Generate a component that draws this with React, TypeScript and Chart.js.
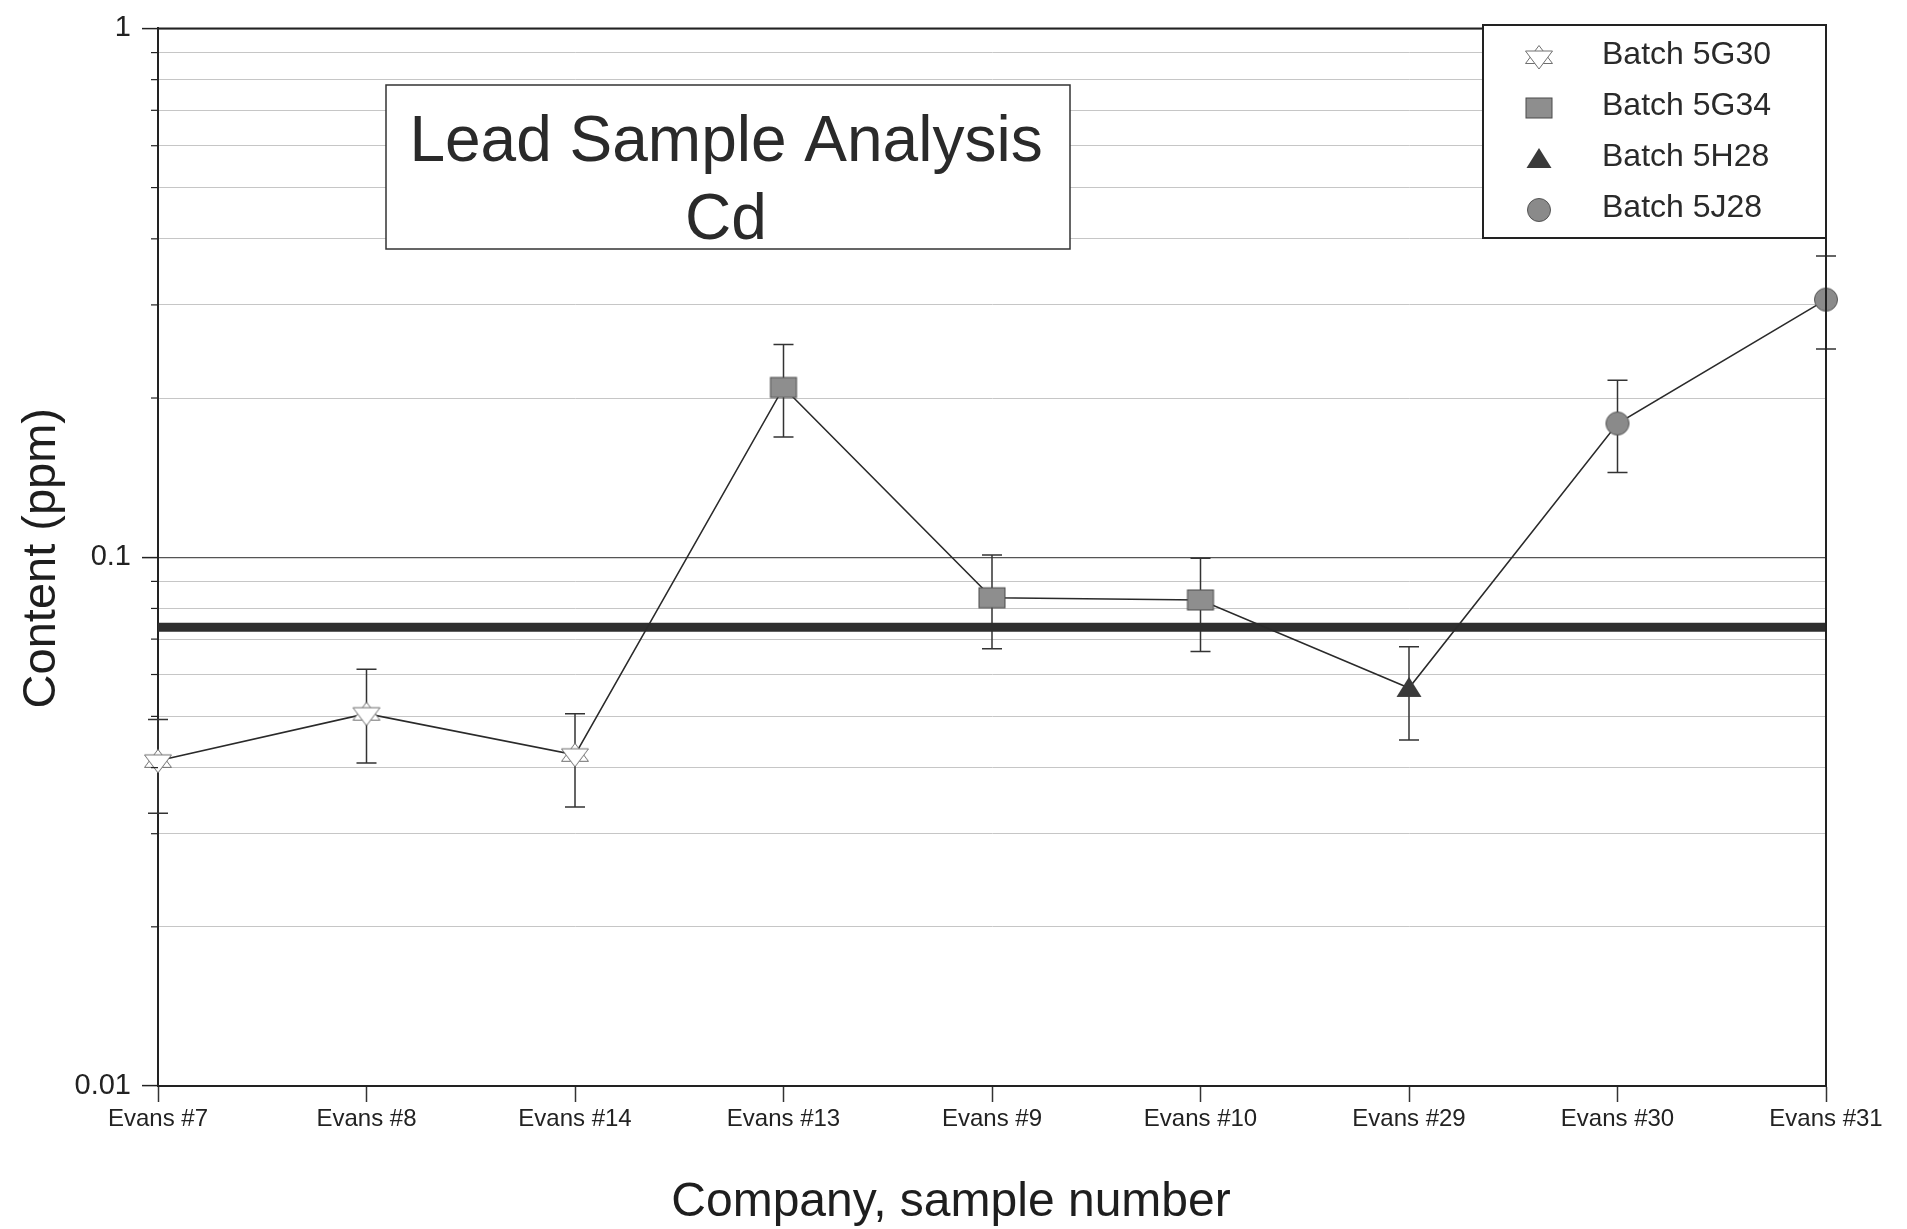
import React, { useEffect, useRef } from 'react';
import { Chart, registerables } from 'chart.js';

Chart.register(...registerables);

// ---------------- data ----------------
const CATEGORIES = ['Evans #7', 'Evans #8', 'Evans #14', 'Evans #13', 'Evans #9', 'Evans #10', 'Evans #29', 'Evans #30', 'Evans #31'];
const CD_VALUES = [0.0412, 0.0506, 0.0423, 0.2094, 0.0838, 0.083, 0.0566, 0.179, 0.307];
const ERR_HIGH = [0.0493, 0.0614, 0.0506, 0.2525, 0.101, 0.0995, 0.0677, 0.216, 0.3713];
const ERR_LOW = [0.0328, 0.0408, 0.0337, 0.1688, 0.0671, 0.0663, 0.0451, 0.1446, 0.2475];
const POINT_BATCH = [0, 0, 0, 1, 1, 1, 2, 3, 3];
const BATCH_NAMES = ['Batch 5G30', 'Batch 5G34', 'Batch 5H28', 'Batch 5J28'];
const REFERENCE_LEVEL = 0.0737;
const Y_MAJOR_TICKS = [0.01, 0.1, 1];
const Y_TICK_LABELS = ['0.01', '0.1', '1'];
const Y_GRID_STEPS = [1, 2, 3, 4, 5, 6, 7, 8, 9];
const TITLE_LINES = ['Lead Sample Analysis', 'Cd'];
const X_TITLE = 'Company, sample number';
const Y_TITLE = 'Content (ppm)';

// ---------------- style ----------------
const FONT = "'Liberation Sans', Arial, Helvetica, sans-serif";
const MARKER_KINDS = ['hexagram', 'square', 'triangle', 'circle'];
const W = 1907;
const H = 1229;

function isMajor(v: number) {
  return Y_MAJOR_TICKS.some((m) => Math.abs(v - m) / m < 1e-6);
}

function drawMarker(ctx: CanvasRenderingContext2D, kind: string, cx: number, cy: number) {
  ctx.save();
  ctx.lineJoin = 'miter';
  if (kind === 'hexagram') {
    ctx.lineWidth = 1;
    ctx.strokeStyle = '#707070';
    ctx.fillStyle = '#ffffff';
    ctx.beginPath();
    ctx.moveTo(cx, cy - 11.5);
    ctx.lineTo(cx - 13.5, cy + 6.5);
    ctx.lineTo(cx + 13.5, cy + 6.5);
    ctx.closePath();
    ctx.fill();
    ctx.stroke();
    ctx.beginPath();
    ctx.moveTo(cx - 13.5, cy - 6);
    ctx.lineTo(cx + 13.5, cy - 6);
    ctx.lineTo(cx, cy + 12);
    ctx.closePath();
    ctx.fill();
    ctx.stroke();
  } else if (kind === 'square') {
    ctx.fillStyle = '#8e8e8e';
    ctx.strokeStyle = '#4a4a4a';
    ctx.lineWidth = 1;
    ctx.fillRect(cx - 13, cy - 10, 26, 20);
    ctx.strokeRect(cx - 13, cy - 10, 26, 20);
  } else if (kind === 'triangle') {
    ctx.fillStyle = '#3a3a3a';
    ctx.beginPath();
    ctx.moveTo(cx, cy - 11);
    ctx.lineTo(cx - 12.5, cy + 9);
    ctx.lineTo(cx + 12.5, cy + 9);
    ctx.closePath();
    ctx.fill();
  } else {
    ctx.fillStyle = '#8a8a8a';
    ctx.strokeStyle = '#555555';
    ctx.lineWidth = 1;
    ctx.beginPath();
    ctx.arc(cx, cy, 11.5, 0, Math.PI * 2);
    ctx.fill();
    ctx.stroke();
  }
  ctx.restore();
}

function makeMarkerCanvas(kind: string) {
  const c = document.createElement('canvas');
  c.width = 32;
  c.height = 32;
  const cctx = c.getContext('2d') as CanvasRenderingContext2D;
  drawMarker(cctx, kind, 16, 16);
  return c;
}

const overlayPlugin = {
  id: 'overlay',
  beforeDatasetsDraw(chart: any) {
    const { ctx } = chart;
    const xs = chart.scales.x;
    const ys = chart.scales.y;
    ctx.save();
    ctx.strokeStyle = '#333333';
    ctx.lineWidth = 1.5;
    CD_VALUES.forEach((_, i) => {
      const x = xs.getPixelForValue(i);
      const yt = ys.getPixelForValue(ERR_HIGH[i]);
      const yb = ys.getPixelForValue(ERR_LOW[i]);
      ctx.beginPath();
      ctx.moveTo(x, yt);
      ctx.lineTo(x, yb);
      ctx.moveTo(x - 10, yt);
      ctx.lineTo(x + 10, yt);
      ctx.moveTo(x - 10, yb);
      ctx.lineTo(x + 10, yb);
      ctx.stroke();
    });
    ctx.restore();
  },
  afterDraw(chart: any) {
    const { ctx, chartArea } = chart;
    const { left, right, top, bottom } = chartArea;
    const ys = chart.scales.y;
    ctx.save();

    // frame top & right
    ctx.strokeStyle = '#222222';
    ctx.lineWidth = 2;
    ctx.beginPath();
    ctx.moveTo(left, top);
    ctx.lineTo(right, top);
    ctx.lineTo(right, bottom);
    ctx.stroke();

    // minor y tick marks
    ctx.lineWidth = 1.2;
    ys.ticks.forEach((t: any) => {
      if (isMajor(t.value)) return;
      const y = ys.getPixelForValue(t.value);
      ctx.beginPath();
      ctx.moveTo(left - 7, y);
      ctx.lineTo(left, y);
      ctx.stroke();
    });

    // title box
    const tb = { x: 386, y: 85, w: 684, h: 164 };
    ctx.fillStyle = '#ffffff';
    ctx.fillRect(tb.x, tb.y, tb.w, tb.h);
    ctx.strokeStyle = '#333333';
    ctx.lineWidth = 1.5;
    ctx.strokeRect(tb.x, tb.y, tb.w, tb.h);
    ctx.fillStyle = '#2a2a2a';
    ctx.font = `64px ${FONT}`;
    ctx.textAlign = 'center';
    ctx.textBaseline = 'alphabetic';
    TITLE_LINES.forEach((line, i) => {
      ctx.fillText(line, tb.x + tb.w / 2 - 2, 161 + i * 78);
    });

    // legend box
    const lb = { x: 1483, y: 25, w: right - 1483, h: 213 };
    ctx.fillStyle = '#ffffff';
    ctx.fillRect(lb.x, lb.y, lb.w, lb.h);
    ctx.strokeStyle = '#222222';
    ctx.lineWidth = 2;
    ctx.strokeRect(lb.x, lb.y, lb.w, lb.h);
    ctx.font = `32px ${FONT}`;
    ctx.textAlign = 'left';
    BATCH_NAMES.forEach((name, i) => {
      const base = 64 + i * 51;
      drawMarker(ctx, MARKER_KINDS[i], 1539, base - 7);
      ctx.fillStyle = '#2a2a2a';
      ctx.fillText(name, 1602, base);
    });

    // axis titles
    ctx.fillStyle = '#1e1e1e';
    ctx.font = `48px ${FONT}`;
    ctx.textAlign = 'center';
    ctx.fillText(X_TITLE, 951, 1216);
    ctx.font = `47px ${FONT}`;
    ctx.save();
    ctx.translate(55, (top + bottom) / 2 + 1);
    ctx.rotate(-Math.PI / 2);
    ctx.fillText(Y_TITLE, 0, 0);
    ctx.restore();

    ctx.restore();
  },
};

export default function App() {
  const ref = useRef<HTMLCanvasElement | null>(null);

  useEffect(() => {
    if (!ref.current) return;
    const markerCanvases = MARKER_KINDS.map((k) => makeMarkerCanvas(k));
    Chart.defaults.font.family = FONT;

    const chart = new Chart(ref.current, {
      type: 'line',
      data: {
        labels: CATEGORIES,
        datasets: [
          {
            label: 'Cd',
            data: CD_VALUES,
            borderColor: '#2a2a2a',
            borderWidth: 1.6,
            pointStyle: POINT_BATCH.map((b) => markerCanvases[b]) as any,
            pointRadius: 12,
            tension: 0,
            clip: false as any,
            order: 1,
          },
          {
            label: 'Reference',
            data: CATEGORIES.map(() => REFERENCE_LEVEL),
            borderColor: '#2e2e2e',
            borderWidth: 9,
            borderCapStyle: 'butt',
            pointRadius: 0,
            tension: 0,
            order: 2,
          },
        ],
      },
      options: {
        responsive: false,
        animation: false,
        events: [],
        layout: { padding: { left: 0, right: W - 1826, top: 23, bottom: 0 } },
        plugins: {
          legend: { display: false },
          tooltip: { enabled: false },
          title: { display: false },
        },
        scales: {
          x: {
            type: 'category',
            offset: false,
            afterFit: (s: any) => {
              s.height = H - 1086;
            },
            grid: {
              display: true,
              drawOnChartArea: false,
              drawTicks: true,
              tickLength: 16,
              tickColor: '#333333',
              tickWidth: 1.5,
            },
            border: { display: true, color: '#222222', width: 2 },
            ticks: {
              autoSkip: false,
              maxRotation: 0,
              padding: 3,
              color: '#222222',
              font: { size: 24, family: FONT },
            },
          },
          y: {
            type: 'logarithmic',
            min: 0.01,
            max: 1,
            afterFit: (s: any) => {
              s.width = 158;
            },
            afterBuildTicks: (s: any) => {
              const ticks: { value: number }[] = [];
              for (let d = 0; d < Y_MAJOR_TICKS.length - 1; d++) {
                Y_GRID_STEPS.forEach((k) => ticks.push({ value: +(Y_MAJOR_TICKS[d] * k).toPrecision(6) }));
              }
              ticks.push({ value: Y_MAJOR_TICKS[Y_MAJOR_TICKS.length - 1] });
              s.ticks = ticks;
            },
            grid: {
              color: (c: any) => (isMajor(c.tick.value) ? '#555555' : '#c6c6c6'),
              lineWidth: (c: any) => (isMajor(c.tick.value) ? 1.2 : 1),
              tickLength: 16,
              tickColor: (c: any) => (isMajor(c.tick.value) ? '#222222' : 'rgba(0,0,0,0)'),
              tickWidth: 1.5,
            },
            border: { display: true, color: '#222222', width: 2 },
            ticks: {
              autoSkip: false,
              padding: 11,
              color: '#222222',
              font: { size: 29, family: FONT },
              callback: (v: any) => {
                const idx = Y_MAJOR_TICKS.findIndex((m) => Math.abs(Number(v) - m) / m < 1e-6);
                return idx >= 0 ? Y_TICK_LABELS[idx] : '';
              },
            },
          },
        },
      },
      plugins: [overlayPlugin],
    });

    return () => chart.destroy();
  }, []);

  return (
    <div style={{ position: 'fixed', left: 0, top: 0, width: W, height: H, background: '#ffffff', overflow: 'hidden' }}>
      <canvas ref={ref} width={W} height={H} style={{ display: 'block', width: W, height: H }} />
    </div>
  );
}
